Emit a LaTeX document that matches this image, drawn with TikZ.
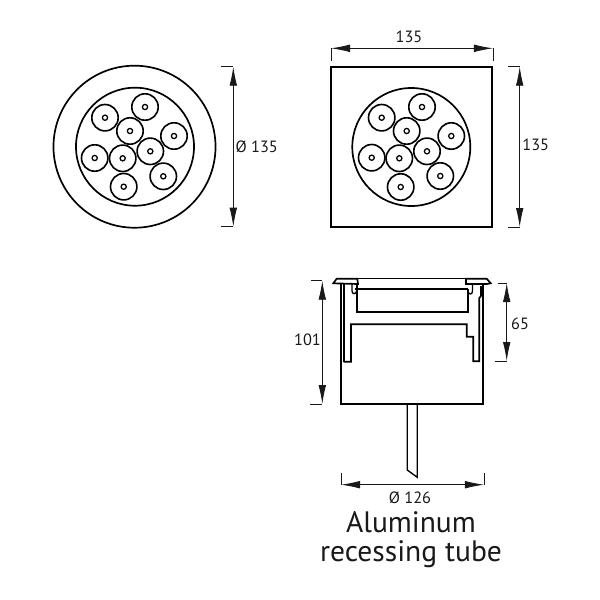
\documentclass[tikz,border=0pt]{standalone}
\usepackage{fontspec}
\setmainfont{PT Sans}
\usetikzlibrary{arrows.meta, positioning}
\tikzset{
  housing/.style={draw, circle, line width=1.2pt, minimum size=4.05cm, inner sep=0pt},
  bezel/.style={draw, circle, line width=1.2pt, minimum size=2.95cm, inner sep=0pt},
  led/.style={draw, circle, line width=1.15pt, minimum size=0.66cm, inner sep=0pt},
  lens/.style={draw, circle, line width=0.9pt, minimum size=0.13cm, inner sep=0pt},
  outline/.style={line width=1.2pt, line join=miter},
  detail/.style={line width=0.95pt},
  dimline/.style={{Latex[length=4.75mm, width=1.9mm]}-{Latex[length=4.75mm, width=1.9mm]}, line width=0.6pt, black!90},
  extline/.style={line width=0.6pt, black!90},
  dimlabel/.style={font=\fontsize{11.6}{14}\selectfont, text=black!90, inner sep=0pt},
  caption/.style={font=\fontsize{21}{24}\selectfont, text=black!90, inner sep=0pt}
}
\begin{document}
\begin{tikzpicture}[x=0.025cm, y=-0.025cm]
        \useasboundingbox (0,0) rectangle (600,600);

        % Round version
        \node[housing] (round) at (134.5,146.7) {};
        \node[bezel] (roundin) at (135,146.7) {};
        \node[led] (a1) at (105,117.7) {}; \node[lens] (a1c) at (a1) {};
        \node[led] (a2) at (145,107) {}; \node[lens] (a2c) at (a2) {};
        \node[led] (a3) at (130,131) {}; \node[lens] (a3c) at (a3) {};
        \node[led] (a4) at (174,136) {}; \node[lens] (a4c) at (a4) {};
        \node[led] (a5) at (150.3,151.3) {}; \node[lens] (a5c) at (a5) {};
        \node[led] (a6) at (122.7,158.3) {}; \node[lens] (a6c) at (a6) {};
        \node[led] (a7) at (94.7,158) {}; \node[lens] (a7c) at (a7) {};
        \node[led] (a8) at (163.3,176.3) {}; \node[lens] (a8c) at (a8) {};
        \node[led] (a9) at (123.7,186.7) {}; \node[lens] (a9c) at (a9) {};

        % Square version
        \draw[outline] (331.3,66.7) rectangle (492.3,227.3);
        \node[bezel] (squarein) at (411.3,147) {};
        \node[led] (b1) at (381.7,117.7) {}; \node[lens] (b1c) at (b1) {};
        \node[led] (b2) at (422,107) {}; \node[lens] (b2c) at (b2) {};
        \node[led] (b3) at (406.7,131) {}; \node[lens] (b3c) at (b3) {};
        \node[led] (b4) at (451.3,136) {}; \node[lens] (b4c) at (b4) {};
        \node[led] (b5) at (427,151.3) {}; \node[lens] (b5c) at (b5) {};
        \node[led] (b6) at (399.3,158.3) {}; \node[lens] (b6c) at (b6) {};
        \node[led] (b7) at (371.7,157.7) {}; \node[lens] (b7c) at (b7) {};
        \node[led] (b8) at (440.3,176) {}; \node[lens] (b8c) at (b8) {};
        \node[led] (b9) at (400.7,187) {}; \node[lens] (b9c) at (b9) {};

        % Recessing tube, side view
        \draw[detail] (357.3,278.7) -- (466,278.7);
        \draw[detail] (355,289) -- (468.3,289);
        \draw[outline] (333.3,283.3) -- (336.7,278.7) -- (357.3,278.7) -- (358,284) -- cycle;
        \draw[outline] (466,278.7) -- (486.7,278.7) -- (490.7,283.3) -- (486.7,284) -- (466,284) -- cycle;
        \draw[line width=1.4pt] (340.7,284) -- (340.7,404) -- (483.3,404) -- (483.3,284);
        \draw[line width=1.4pt] (343.6,284) -- (343.6,361.7);
        \draw[outline] (343.6,361.7) -- (351,361.7) -- (351,324.3) -- (466.7,324.3) -- (466.7,336.7) -- (473.3,336.7) -- (473.3,361.3) -- (479.3,361.3) -- (479.3,298) -- (481,296) -- (481,286);
        \draw[outline] (356.7,284) -- (356.7,312.3) -- (467.7,312.3) -- (467.7,289);
        \draw[detail] (352,284) -- (352,291) .. controls (352,294.5) and (356,294.5) .. (356.7,291);
        \draw[detail] (472.5,285) -- (472.5,291) .. controls (472.5,295) and (468.5,295) .. (467.7,291);

        % Cable
        \draw[detail] (407.3,404) -- (407.3,470) -- (417.3,477.3) -- (417.3,404);

        % Dimension ends
        \coordinate (da) at (233.3,66.7);
        \coordinate (db) at (233.3,226.7);
        \coordinate (dc) at (331,48.3);
        \coordinate (dd) at (493,48.3);
        \coordinate (de) at (519.7,66.7);
        \coordinate (df) at (519.7,227);
        \coordinate (dg) at (322.3,280.7);
        \coordinate (dh) at (322.3,404);
        \coordinate (di) at (506.7,283);
        \coordinate (dj) at (506.7,361);
        \coordinate (dk) at (341,484.7);
        \coordinate (dl) at (484,484.7);

        % Dimensions
        \draw[dimline] (da) -- (db);
        \draw[dimline] (dc) -- (dd);
        \draw[dimline] (de) -- (df);
        \draw[dimline] (dg) -- (dh);
        \draw[dimline] (di) -- (dj);
        \draw[dimline] (dk) -- (dl);
        \draw[extline] (221,66.7) -- (da);
        \draw[extline] (221,226.7) -- (db);
        \draw[extline] (dc) -- (331,60.7);
        \draw[extline] (dd) -- (493,60.7);
        \draw[extline] (508,66.7) -- (de);
        \draw[extline] (508,227) -- (df);
        \draw[extline] (311,280.7) -- (dg);
        \draw[extline] (310,404) -- (dh);
        \draw[extline] (498.3,283) -- (di);
        \draw[extline] (495,361) -- (dj);
        \draw[extline] (dk) -- (341,473.3);
        \draw[extline] (dl) -- (484,473.3);

        % Labels
        \node[dimlabel] (lda) at (256.7,146.5) {Ø 135};
        \node[dimlabel] (ldb) at (409,36.5) {135};
        \node[dimlabel] (ldc) at (535.7,145) {135};
        \node[dimlabel] (ldd) at (307.5,340) {101};
        \node[dimlabel] (lde) at (520,323.5) {65};
        \node[dimlabel] (ldf) at (410,497.7) {Ø 126};
        \node[caption] (capa) at (411,522.5) {Aluminum};
        \node[caption] (capb) at (411,554) {recessing tube};
\end{tikzpicture}
\end{document}
